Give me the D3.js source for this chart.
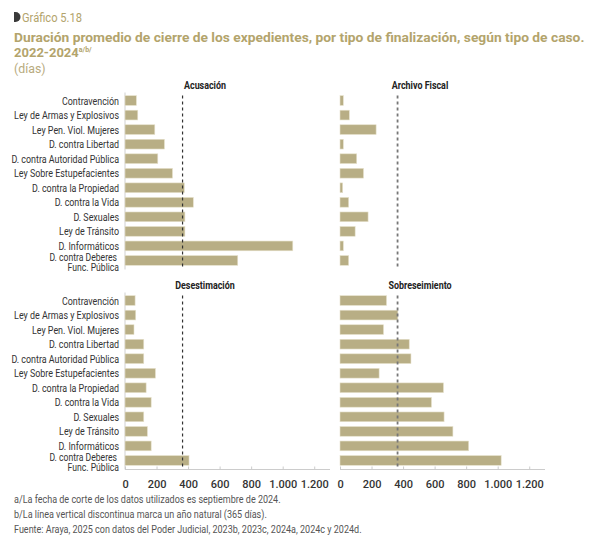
<!DOCTYPE html>
<html>
<head>
<meta charset="utf-8">
<script src="https://cdn.jsdelivr.net/npm/d3@7"></script>
<style>
  body { margin: 0; background: #fff; }
  svg { display: block; }
  .cat { font-family: "Roboto", sans-serif; font-size: 11px; fill: #333; }
  .ptitle { font-family: "Roboto", sans-serif; font-size: 10.5px; font-weight: bold; fill: #222; }
  .axis text { font-family: "Roboto", sans-serif; font-size: 11px; font-weight: 500; fill: #333; }
  .note { font-family: "Roboto", sans-serif; font-size: 10.5px; fill: #555; }
  .head { font-family: "Roboto", sans-serif; font-size: 13px; }
</style>
</head>
<body>
<svg width="600" height="538"></svg>
<script>
const categories = [
  'Contravención', 'Ley de Armas y Explosivos', 'Ley Pen. Viol. Mujeres',
  'D. contra Libertad', 'D. contra Autoridad Pública', 'Ley Sobre Estupefacientes',
  'D. contra la Propiedad', 'D. contra la Vida', 'D. Sexuales', 'Ley de Tránsito',
  'D. Informáticos', 'D. contra Deberes Func. Pública'
];
const acusacion      = [72, 81, 189, 250, 208, 301, 376, 433, 380, 380, 1064, 715];
const archivoFiscal  = [21, 59, 229, 21, 106, 149, 17, 55, 178, 96, 21, 55];
const desestimacion  = [64, 68, 57, 119, 119, 193, 134, 166, 119, 142, 166, 406];
const sobreseimiento = [295, 367, 276, 439, 450, 248, 656, 580, 660, 716, 816, 1022];
const xTicks = [0, 200, 400, 600, 800, 1000, 1200];
const yearLine = 365;

const panels = [
  { title: 'Acusación', values: acusacion, col: 0, row: 0 },
  { title: 'Archivo Fiscal', values: archivoFiscal, col: 1, row: 0 },
  { title: 'Desestimación', values: desestimacion, col: 0, row: 1 },
  { title: 'Sobreseimiento', values: sobreseimiento, col: 1, row: 1 }
];

const svg = d3.select('svg');
const gold = '#b3a46c';

// narrow text: the reference uses a condensed face
const narrow = (parent, x, y, sx) =>
  parent.append('g').attr('transform', `translate(${x},${y}) scale(${sx},1)`);

// squeeze a header line to the width it has in the reference
const fitTo = (sel, x, y, w) => {
  const g = svg.append('g');
  const t = sel(g);
  const len = t.node().getComputedTextLength();
  g.attr('transform', `translate(${x},${y}) scale(${Math.min(1.1, w / len)},1)`);
  return t;
};

// header
svg.append('path')
  .attr('d', 'M14,12 L15.5,12 A5,5 0 0 1 15.5,22 L14,22 Z')
  .attr('fill', '#3a3a3a');
fitTo(g => g.append('text').attr('class', 'head').style('font-size', '12.5px')
  .attr('fill', gold).text('Gráfico 5.18'), 22, 22, 60);
fitTo(g => g.append('text').attr('class', 'head').style('font-weight', 'bold').attr('fill', gold)
  .text('Duración promedio de cierre de los expedientes, por tipo de finalización, según tipo de caso.'), 14, 42, 571);
const l2 = narrow(svg, 14, 57, 1.0).append('text').attr('class', 'head')
  .style('font-weight', 'bold').attr('fill', gold);
l2.append('tspan').text('2022-2024');
l2.append('tspan').attr('dy', -5).style('font-size', '7px').text('a/b/');
narrow(svg, 14, 73, 0.95).append('text').attr('class', 'head')
  .attr('fill', '#b8ab7e').text('(días)');

const x0s = [125, 340];
const panelW = 205;
const rowTops = [93.5, 293.5];
const panelH = 174;

const fmt = d3.formatLocale({ decimal: ',', thousands: '.', grouping: [3], currency: ['', ''] }).format(',');

panels.forEach(p => {
  const x0 = x0s[p.col];
  const top = rowTops[p.row];
  const x = d3.scaleLinear().domain([0, 1300]).range([x0, x0 + panelW]);
  const y = d3.scaleBand().domain(categories).range([top, top + panelH]).paddingInner(0.33).paddingOuter(0.15);
  const g = svg.append('g');

  narrow(g, x0 + 80, top - 5, 0.85).append('text').attr('class', 'ptitle')
    .attr('text-anchor', 'middle').text(p.title);

  if (p.col === 0) {
    g.append('line').attr('x1', x0).attr('x2', x0).attr('y1', top - 1).attr('y2', top + panelH + 2)
      .attr('stroke', '#d0d0d0').attr('stroke-width', 1);

    categories.forEach(d => {
      const cy = y(d) + y.bandwidth() / 2;
      if (d === 'D. contra Deberes Func. Pública') {
        narrow(g, x0 - 8, cy + 0.5, 0.82).append('text').attr('class', 'cat')
          .style('font-size', '10.5px').attr('text-anchor', 'end').text('D. contra Deberes');
        narrow(g, x0 - 6, cy + 11, 0.82).append('text').attr('class', 'cat')
          .style('font-size', '10.5px').attr('text-anchor', 'end').text('Func. Pública');
      } else {
        narrow(g, x0 - 6, cy + 4, 0.81).append('text').attr('class', 'cat')
          .attr('text-anchor', 'end').text(d);
      }
    });
  }

  g.selectAll('.bar').data(p.values).enter().append('rect')
    .attr('class', 'bar')
    .attr('x', x(0))
    .attr('y', (d, i) => y(categories[i]))
    .attr('width', d => x(d) - x(0))
    .attr('height', y.bandwidth())
    .attr('fill', '#b8ae85')
    .attr('stroke', '#e6e1cc').attr('stroke-width', 0.6);

  g.append('line')
    .attr('x1', x(yearLine)).attr('x2', x(yearLine))
    .attr('y1', top + 2).attr('y2', top + panelH + 2)
    .attr('stroke', p.col === 0 ? '#333' : '#777')
    .attr('stroke-width', p.col === 0 ? 1.2 : 1.8)
    .attr('stroke-dasharray', '3,3');

  if (p.row === 1) {
    const ax = g.append('g').attr('class', 'axis')
      .attr('transform', `translate(0,${top + panelH + 2})`)
      .call(d3.axisBottom(x).tickValues(xTicks).tickFormat(fmt).tickSize(3).tickSizeOuter(0).tickPadding(8));
    ax.select('.domain').attr('stroke', '#ccc').attr('d', `M${x0},0H${x0 + panelW}`);
    ax.selectAll('.tick line').attr('stroke', '#ccc').attr('y2', -3);
  }
});

const notes = [
  'a/La fecha de corte de los datos utilizados es septiembre de 2024.',
  'b/La línea vertical discontinua marca un año natural (365 días).',
  'Fuente: Araya, 2025 con datos del Poder Judicial, 2023b, 2023c, 2024a, 2024c y 2024d.'
];
notes.forEach((d, i) => {
  narrow(svg, 14, 503 + i * 15, 0.86).append('text').attr('class', 'note').text(d);
});
</script>
</body>
</html>
